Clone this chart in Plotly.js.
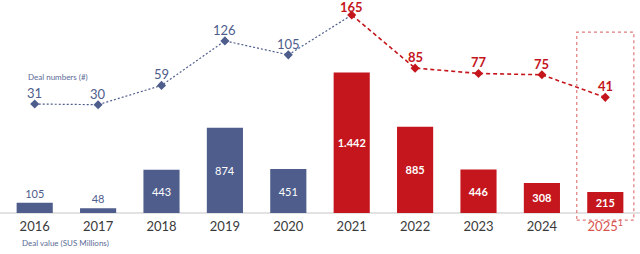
<!DOCTYPE html>
<html><head><meta charset="utf-8">
<script src="https://cdn.plot.ly/plotly-3.0.1.min.js"></script>
<style>html,body{margin:0;padding:0;background:#fff}#c{width:640px;height:254px}</style>
</head><body><div id="c"></div>
<script>
const years = ['2016','2017','2018','2019','2020','2021','2022','2023','2024','2025'];
const yearLabels = ['2016','2017','2018','2019','2020','2021','2022','2023','2024','<span style="color:#d9534f">2025<sup>1</sup></span>'];
const dealValue = [105, 48, 443, 874, 451, 1442, 885, 446, 308, 215];
const dealNumbers = [31, 30, 59, 126, 105, 165, 85, 77, 75, 41];

const BLUE = '#4e5d8c', RED = '#c4161c';
const isRed = years.map((y,i)=> i>=5);

const barTrace = {
  type:'bar', x:years, y:dealValue, yaxis:'y',
  marker:{color:isRed.map(r=>r?RED:BLUE)},
  texttemplate: isRed.map(r=> r ? '<b>%{y:,}</b>' : '%{y:,}'),
  textposition: dealValue.map(v=> v<200 ? 'outside' : 'inside'),
  insidetextanchor:'middle',
  textfont:{family:'Lato, sans-serif', size:11, color: dealValue.map(v=> v<200 ? BLUE : '#ffffff')},
  cliponaxis:false, hoverinfo:'skip', showlegend:false
};

const blueIdx = [0,1,2,3,4,5];
const redIdx = [5,6,7,8,9];
const blueLine = {
  type:'scatter', mode:'lines', x:blueIdx.map(i=>years[i]), y:blueIdx.map(i=>dealNumbers[i]), yaxis:'y2',
  line:{color:BLUE, width:1.2, dash:'2px,2px'}, hoverinfo:'skip', showlegend:false
};
const blueMarkers = {
  type:'scatter', mode:'markers', x:years.slice(0,5), y:dealNumbers.slice(0,5), yaxis:'y2',
  marker:{symbol:'diamond', size:7, color:BLUE}, cliponaxis:false, hoverinfo:'skip', showlegend:false
};
const redLine = {
  type:'scatter', mode:'lines+markers', x:redIdx.map(i=>years[i]), y:redIdx.map(i=>dealNumbers[i]), yaxis:'y2',
  line:{color:RED, width:1.6, dash:'4px,3px'},
  marker:{symbol:'diamond', size:7, color:RED}, cliponaxis:false, hoverinfo:'skip', showlegend:false
};

const maxN = Math.max(...dealNumbers);
const numberLabels = years.map((yr,i)=>({
  x:i, y:dealNumbers[i], xref:'x', yref:'y2', showarrow:false,
  text: isRed[i] ? '<b>'+dealNumbers[i]+'</b>' : String(dealNumbers[i]),
  yanchor:'middle', xanchor:'center', yshift: dealNumbers[i]===maxN ? 8 : 11,
  font:{family:'Lato, sans-serif', size:13, color: isRed[i] ? RED : BLUE}
}));

const layout = {
  width:640, height:254,
  margin:{l:3, r:3, t:5, b:41},
  paper_bgcolor:'#fff', plot_bgcolor:'#fff',
  separators:',.',
  bargap:0.43,
  font:{family:'Lato, sans-serif'},
  xaxis:{type:'category', range:[-0.5,9.5], tickvals:years, ticktext:yearLabels, showgrid:false, zeroline:false, showline:false,
         ticks:'', ticklabelstandoff:4, tickfont:{family:'Lato, sans-serif', size:13, color:'#3a3a3a'}, fixedrange:true},
  yaxis:{range:[0,2133], visible:false, showgrid:false, zeroline:false},
  yaxis2:{range:[-133,180], overlaying:'y', visible:false, showgrid:false, zeroline:false},
  shapes:[
    {type:'line', xref:'paper', yref:'paper', x0:-0.01, x1:1.01, y0:0, y1:0, line:{color:'#d9d9d9', width:1.5}, layer:'below'},
    {type:'rect', xref:'x', yref:'paper', x0:8.55, x1:9.45, y0:-0.034, y1:0.87, line:{color:'#e07a7a', width:1.2, dash:'dot'}}
  ],
  annotations:numberLabels.concat([
    {text:'Deal numbers (#)', xref:'paper', yref:'paper', x:(26-3)/634, y:(213-77)/208, xanchor:'left', yanchor:'middle', showarrow:false,
     font:{family:'Lato, sans-serif', size:8, color:'#5a6a96'}},
    {text:'Deal value (SUS Millions)', xref:'paper', yref:'paper', x:(20-3)/634, y:(213-243)/208, xanchor:'left', yanchor:'middle', showarrow:false,
     font:{family:'Lato, sans-serif', size:8, color:'#5a6a96'}}
  ])
};

Plotly.newPlot('c', [barTrace, blueLine, blueMarkers, redLine], layout, {displayModeBar:false, staticPlot:true});
</script></body></html>
